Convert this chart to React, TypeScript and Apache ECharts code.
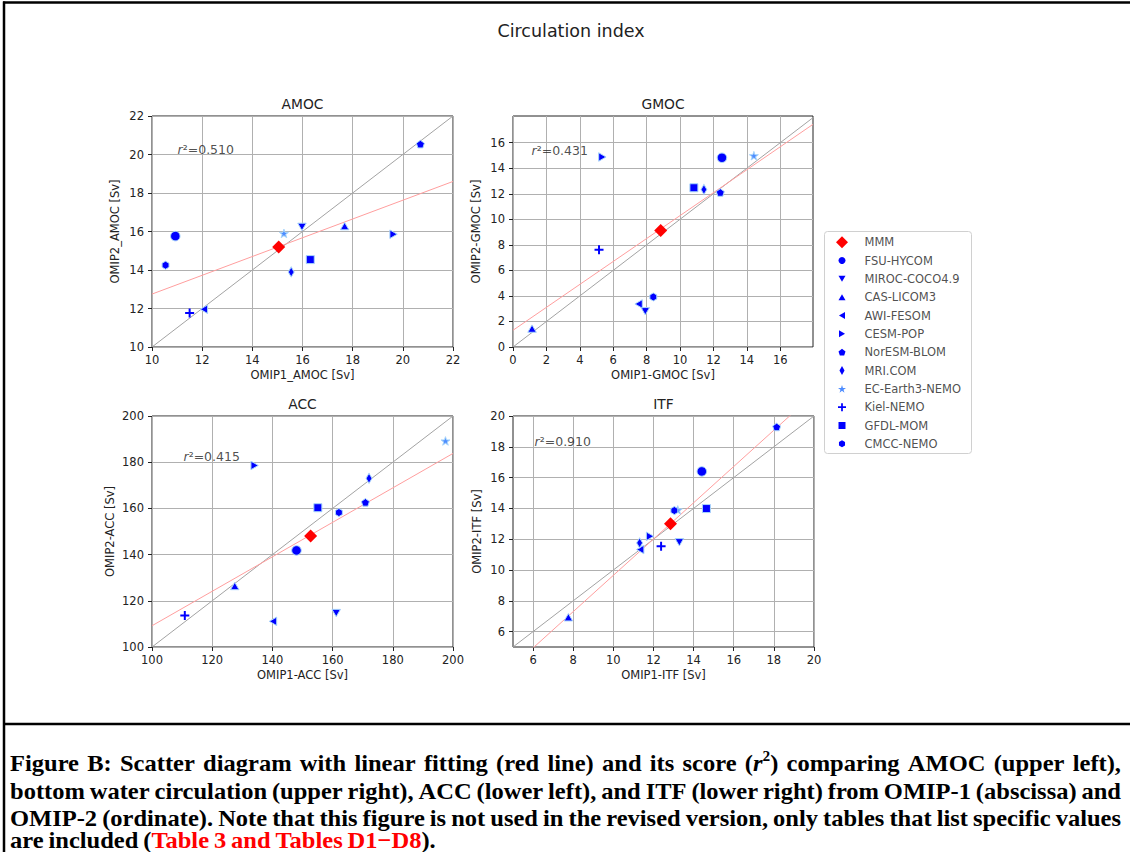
import React, { useEffect, useRef } from 'react';
import * as echarts from 'echarts';

// ---------------- DATA ----------------
const MODELS = ['FSU-HYCOM', 'MIROC-COCO4.9', 'CAS-LICOM3', 'AWI-FESOM', 'CESM-POP', 'NorESM-BLOM', 'MRI.COM', 'EC-Earth3-NEMO', 'Kiel-NEMO', 'GFDL-MOM', 'CMCC-NEMO'];
const LEGEND_NAMES = ['MMM', ...MODELS];

const PANEL_TITLES = ['AMOC', 'GMOC', 'ACC', 'ITF'];
const X_NAMES = ['OMIP1_AMOC [Sv]', 'OMIP1-GMOC [Sv]', 'OMIP1-ACC [Sv]', 'OMIP1-ITF [Sv]'];
const Y_NAMES = ['OMIP2_AMOC [Sv]', 'OMIP2-GMOC [Sv]', 'OMIP2-ACC [Sv]', 'OMIP2-ITF [Sv]'];

// OMIP1 (x) and OMIP2 (y) values, in MODELS order
const AMOC_X = [10.93, 15.98, 17.68, 12.07, 19.63, 20.70, 15.55, 15.26, 11.50, 16.31, 10.54];
const AMOC_Y = [15.76, 16.24, 16.28, 11.96, 15.86, 20.54, 13.90, 15.90, 11.77, 14.54, 14.25];
const GMOC_X = [12.51, 7.92, 1.14, 7.52, 5.35, 12.41, 11.43, 14.42, 5.15, 10.83, 8.40];
const GMOC_Y = [14.82, 2.80, 1.44, 3.37, 14.88, 12.10, 12.34, 14.98, 7.61, 12.47, 3.92];
const ACC_X = [148.0, 161.2, 127.5, 140.2, 134.1, 170.9, 172.1, 197.5, 110.9, 155.1, 162.1];
const ACC_Y = [141.8, 114.7, 126.4, 111.1, 178.6, 162.6, 173.0, 189.2, 113.6, 160.3, 158.2];
const ITF_X = [14.41, 13.29, 7.76, 11.34, 11.83, 18.14, 11.31, 13.21, 12.38, 14.64, 13.04];
const ITF_Y = [16.40, 11.80, 6.93, 11.33, 12.19, 19.29, 11.76, 13.90, 11.54, 13.99, 13.86];

const MMM_X = [15.05, 8.84, 152.7, 12.85];
const MMM_Y = [15.2, 9.12, 148.1, 13.0];

// linear fit y = a + b x
const FIT_INTERCEPT = [7.875, 1.31, 34.6, -2.127];
const FIT_SLOPE = [0.4875, 0.898, 0.746, 1.178];

const R2_TEXT = ['0.510', '0.431', '0.415', '0.910'];
const R2_X = [11.0, 1.08, 110.3, 6.05];
const R2_Y = [20.27, 15.37, 182.4, 18.33];

const X_MIN = [10, 0, 100, 5];
const X_MAX = [22, 17.96, 200, 20];
const Y_MIN = [10, 0, 100, 5];
const Y_MAX = [22, 18.09, 200, 20];

const TICKS_AMOC = [10, 12, 14, 16, 18, 20, 22];
const TICKS_GMOC = [0, 2, 4, 6, 8, 10, 12, 14, 16];
const TICKS_ACC = [100, 120, 140, 160, 180, 200];
const TICKS_ITF = [6, 8, 10, 12, 14, 16, 18, 20];
const X_TICKS = [TICKS_AMOC, TICKS_GMOC, TICKS_ACC, TICKS_ITF];
const Y_TICKS = [TICKS_AMOC, TICKS_GMOC, TICKS_ACC, TICKS_ITF];

const SUPTITLE = 'Circulation index';
const CAPTION = [
  'Figure B: Scatter diagram with linear fitting (red line) and its score (*r*^2^) comparing AMOC (upper left),',
  'bottom water circulation (upper right), ACC (lower left), and ITF (lower right) from OMIP-1 (abscissa) and',
  'OMIP-2 (ordinate). Note that this figure is not used in the revised version, only tables that list specific values',
  'are included ([Table 3 and Tables D1\u2212D8]).',
];

// ---------------- STYLE ----------------
const FONT = '"DejaVu Sans", sans-serif';
const TXT = '#222';
const BLUE = '#0000ff';
const HALO = '#a9d6fb';

const TRI_DOWN = 'path://M0,0L10,0L5,8.66Z';
const TRI_UP = 'path://M5,0L10,8.66L0,8.66Z';
const TRI_LEFT = 'path://M0,5L8.66,0L8.66,10Z';
const TRI_RIGHT = 'path://M0,0L8.66,5L0,10Z';
const PENTA = 'path://M5,0L9.76,3.45L7.94,9.05L2.06,9.05L0.24,3.45Z';
const HEXA = 'path://M5,0L9.33,2.5L9.33,7.5L5,10L0.67,7.5L0.67,2.5Z';
const STAR = 'path://M5,0L6.12,3.45L9.76,3.45L6.82,5.59L7.94,9.05L5,6.91L2.06,9.05L3.18,5.59L0.24,3.45L3.88,3.45Z';
const PLUS = 'path://M3.9,0H6.1V3.9H10V6.1H6.1V10H3.9V6.1H0V3.9H3.9Z';
const THIN_DIAMOND = 'path://M5,0L8.5,5L5,10L1.5,5Z';
const SQUARE = 'path://M0,0H10V10H0Z';
const DIAMOND = 'path://M5,0L10,5L5,10L0,5Z';

const MARKERS: Record<string, any> = {
  'MMM': { symbol: DIAMOND, size: 13, lsize: 12, color: '#ff0000', halo: false },
  'FSU-HYCOM': { symbol: 'circle', size: 9.5, lsize: 7, color: BLUE, halo: true },
  'MIROC-COCO4.9': { symbol: TRI_DOWN, size: 8.5, lsize: 7, color: BLUE, halo: true },
  'CAS-LICOM3': { symbol: TRI_UP, size: 8.5, lsize: 7, color: BLUE, halo: true },
  'AWI-FESOM': { symbol: TRI_LEFT, size: 8.5, lsize: 7, color: BLUE, halo: true },
  'CESM-POP': { symbol: TRI_RIGHT, size: 8.5, lsize: 7, color: BLUE, halo: true },
  'NorESM-BLOM': { symbol: PENTA, size: 8, lsize: 7, color: BLUE, halo: true },
  'MRI.COM': { symbol: THIN_DIAMOND, size: [6, 10], lsize: [5, 9], color: BLUE, halo: true, noAspect: true },
  'EC-Earth3-NEMO': { symbol: STAR, size: 9, lsize: 8, color: '#4d8cff', halo: true },
  'Kiel-NEMO': { symbol: PLUS, size: 9, lsize: 8, color: BLUE, halo: false },
  'GFDL-MOM': { symbol: SQUARE, size: 8, lsize: 7, color: BLUE, halo: true },
  'CMCC-NEMO': { symbol: HEXA, size: 8, lsize: 7, color: BLUE, halo: true },
};

const GRIDS = [
  { left: 152, top: 116, width: 301, height: 231 },
  { left: 513, top: 116, width: 300, height: 231 },
  { left: 152, top: 416, width: 301, height: 231 },
  { left: 513, top: 416, width: 301, height: 231 },
];
const Y_NAME_GAP = [31, 31, 36, 30];

function parseCaption(line: string) {
  const words: any[] = [];
  let cur: any[] = [];
  let run: any = null;
  let it = false, sup = false, red = false;
  const push = () => { if (run && run.t) cur.push(run); run = null; };
  for (const ch of line) {
    if (ch === '*') { push(); it = !it; continue; }
    if (ch === '^') { push(); sup = !sup; continue; }
    if (ch === '[') { push(); red = true; continue; }
    if (ch === ']') { push(); red = false; continue; }
    if (ch === ' ') { push(); if (cur.length) words.push(cur); cur = []; continue; }
    if (!run) run = { t: '', it, sup, red };
    run.t += ch;
  }
  push();
  if (cur.length) words.push(cur);
  return words;
}

export default function App() {
  const ref = useRef<HTMLDivElement>(null);
  useEffect(() => {
    if (!ref.current) return;
    const chart = echarts.init(ref.current, null, { renderer: 'svg' });

    const PX = [AMOC_X, GMOC_X, ACC_X, ITF_X];
    const PY = [AMOC_Y, GMOC_Y, ACC_Y, ITF_Y];

    const grids: any[] = GRIDS.map((g) => ({ ...g, show: true, borderColor: '#222', borderWidth: 1, backgroundColor: '#fff', outerBoundsMode: 'none', containLabel: false }));
    grids.push({ left: 824, top: 233, width: 148, height: 220, show: false, outerBoundsMode: 'none', containLabel: false });

    const xAxes: any[] = [];
    const yAxes: any[] = [];
    for (let p = 0; p < 4; p++) {
      const common = {
        gridIndex: p,
        type: 'value',
        nameLocation: 'middle',
        nameTextStyle: { fontSize: 11.5, color: TXT, fontFamily: FONT },
        axisLine: { show: false },
        splitLine: { show: true, lineStyle: { color: '#b0b0b0', width: 1 } },
      };
      xAxes.push({
        ...common,
        min: X_MIN[p], max: X_MAX[p], name: X_NAMES[p], nameGap: 22,
        axisTick: { show: true, inside: false, length: 4, customValues: X_TICKS[p], lineStyle: { color: '#222' } },
        axisLabel: { customValues: X_TICKS[p], fontSize: 11.5, color: TXT, fontFamily: FONT, margin: 7 },
      });
      yAxes.push({
        ...common,
        min: Y_MIN[p], max: Y_MAX[p], name: Y_NAMES[p], nameGap: Y_NAME_GAP[p],
        axisTick: { show: true, inside: false, length: 4, customValues: Y_TICKS[p], lineStyle: { color: '#222' } },
        axisLabel: { customValues: Y_TICKS[p], fontSize: 11.5, color: TXT, fontFamily: FONT, margin: 8 },
      });
    }
    xAxes.push({ gridIndex: 4, type: 'value', min: 0, max: 148, show: false });
    yAxes.push({ gridIndex: 4, type: 'category', data: LEGEND_NAMES, inverse: true, show: false, boundaryGap: true });

    const series: any[] = [];
    for (let p = 0; p < 4; p++) {
      const lo = Math.min(X_MIN[p], Y_MIN[p]);
      const hi = Math.max(X_MAX[p], Y_MAX[p]);
      series.push({
        type: 'line', xAxisIndex: p, yAxisIndex: p, silent: true, symbol: 'none', clip: true, z: 1,
        data: [[lo, lo], [hi, hi]], lineStyle: { color: '#a3a3a3', width: 1 },
      });
      const a = FIT_INTERCEPT[p], b = FIT_SLOPE[p];
      series.push({
        type: 'line', xAxisIndex: p, yAxisIndex: p, silent: true, symbol: 'none', clip: true, z: 1,
        data: [[X_MIN[p], a + b * X_MIN[p]], [X_MAX[p], a + b * X_MAX[p]]], lineStyle: { color: '#ff9e9e', width: 1 },
      });
      MODELS.forEach((m, i) => {
        const mk = MARKERS[m];
        series.push({
          type: 'scatter', name: m, xAxisIndex: p, yAxisIndex: p, silent: true, z: 3,
          symbol: mk.symbol, symbolSize: mk.size, symbolKeepAspect: !mk.noAspect,
          itemStyle: { color: mk.color, opacity: 1, borderColor: HALO, borderWidth: mk.halo ? 1 : 0 },
          data: [[PX[p][i], PY[p][i]]],
        });
      });
      const mm = MARKERS['MMM'];
      series.push({
        type: 'scatter', name: 'MMM', xAxisIndex: p, yAxisIndex: p, silent: true, z: 4,
        symbol: mm.symbol, symbolSize: mm.size, symbolKeepAspect: true,
        itemStyle: { color: mm.color, opacity: 1 },
        data: [[MMM_X[p], MMM_Y[p]]],
      });
      series.push({
        type: 'scatter', xAxisIndex: p, yAxisIndex: p, silent: true, z: 5, symbolSize: 1,
        itemStyle: { color: 'transparent' },
        data: [{ name: R2_TEXT[p], value: [R2_X[p], R2_Y[p]] }],
        label: {
          show: true, position: 'right', distance: 0,
          formatter: '{i|r}{n|\u00b2=' + R2_TEXT[p] + '}',
          rich: {
            i: { fontStyle: 'italic', fontSize: 12.5, color: TXT, fontFamily: FONT },
            n: { fontSize: 12.5, color: TXT, fontFamily: FONT },
          },
        },
      });
    }
    // legend (drawn in its own grid)
    series.push({
      type: 'scatter', xAxisIndex: 4, yAxisIndex: 4, silent: true, z: 5,
      data: LEGEND_NAMES.map((n) => {
        const mk = MARKERS[n];
        return {
          value: [18, n], symbol: mk.symbol, symbolSize: mk.lsize, symbolKeepAspect: !mk.noAspect,
          itemStyle: { color: mk.color, opacity: 1, borderWidth: 0 },
        };
      }),
    });
    series.push({
      type: 'scatter', xAxisIndex: 4, yAxisIndex: 4, silent: true, z: 5, symbolSize: 1,
      itemStyle: { color: 'transparent' },
      data: LEGEND_NAMES.map((n) => ({ name: n, value: [40, n] })),
      label: { show: true, position: 'right', distance: 0, formatter: '{b}', fontSize: 11.5, color: TXT, fontFamily: FONT },
    });

    // graphics
    const graphic: any[] = [];
    graphic.push({ type: 'rect', z: 0, shape: { x: 824.5, y: 231.5, width: 147, height: 222, r: 3 }, style: { fill: '#fff', stroke: '#d0d0d0', lineWidth: 1 } });
    graphic.push({ type: 'text', x: 571, y: 31, style: { text: SUPTITLE, fontSize: 17.5, fontFamily: FONT, fill: TXT, align: 'center', verticalAlign: 'middle' } });
    GRIDS.forEach((g, p) => {
      graphic.push({ type: 'text', x: g.left + g.width / 2, y: g.top - 12, style: { text: PANEL_TITLES[p], fontSize: 13.8, fontFamily: FONT, fill: TXT, align: 'center', verticalAlign: 'middle' } });
    });
    // frame lines
    graphic.push({ type: 'line', shape: { x1: 4, y1: 1.5, x2: 4, y2: 852 }, style: { stroke: '#000', lineWidth: 2.5 } });
    graphic.push({ type: 'line', shape: { x1: 3, y1: 2.5, x2: 1130, y2: 2.5 }, style: { stroke: '#000', lineWidth: 2.5 } });
    graphic.push({ type: 'line', shape: { x1: 3, y1: 724, x2: 1130, y2: 724 }, style: { stroke: '#000', lineWidth: 2.5 } });

    // caption: justified, horizontally condensed like the reference
    const ctx = document.createElement('canvas').getContext('2d')!;
    const CAP_SIZE = 24, SUP_SIZE = 15;
    const fontOf = (r: any) => `${r.it ? 'italic ' : ''}bold ${r.sup ? SUP_SIZE : CAP_SIZE}px "Liberation Serif"`;
    const measure = (r: any) => { ctx.font = fontOf(r); return ctx.measureText(r.t).width; };
    ctx.font = `bold ${CAP_SIZE}px "Liberation Serif"`;
    const spaceW = ctx.measureText(' ').width * 0.8;
    const L = 10, R = 1121;
    const LINE_Y = [763, 791, 818, 840];
    const parsed = CAPTION.map(parseCaption);
    const wordWidths = parsed.map((words) => words.map((w: any[]) => w.reduce((s: number, r: any) => s + measure(r), 0)));
    let maxNatural = 0;
    parsed.forEach((words, li) => {
      const nat = wordWidths[li].reduce((s: number, v: number) => s + v, 0) + (words.length - 1) * spaceW;
      if (li < parsed.length - 1) maxNatural = Math.max(maxNatural, nat);
    });
    const k = (R - L) / maxNatural;
    parsed.forEach((words, li) => {
      const widths = wordWidths[li].map((v: number) => v * k);
      const total = widths.reduce((s: number, v: number) => s + v, 0);
      const justify = li < parsed.length - 1;
      const gap = justify ? (R - L - total) / (words.length - 1) : spaceW * k;
      let x = L;
      words.forEach((w: any[], wi: number) => {
        let rx = x;
        w.forEach((r: any) => {
          graphic.push({
            type: 'text', x: rx, y: LINE_Y[li] + (r.sup ? -7 : 0), scaleX: k,
            style: {
              text: r.t, fontFamily: '"Liberation Serif", serif', fontWeight: 'bold',
              fontStyle: r.it ? 'italic' : 'normal', fontSize: r.sup ? SUP_SIZE : CAP_SIZE,
              fill: r.red ? '#ff0000' : '#000', align: 'left', verticalAlign: 'middle',
            },
          });
          rx += measure(r) * k;
        });
        x += widths[wi] + gap;
      });
    });

    chart.setOption({
      animation: false,
      backgroundColor: '#fff',
      textStyle: { fontFamily: FONT },
      grid: grids,
      xAxis: xAxes,
      yAxis: yAxes,
      series,
      graphic,
    });
    return () => chart.dispose();
  }, []);
  return <div ref={ref} style={{ position: 'absolute', left: 0, top: 0, width: 1130, height: 852 }} />;
}
